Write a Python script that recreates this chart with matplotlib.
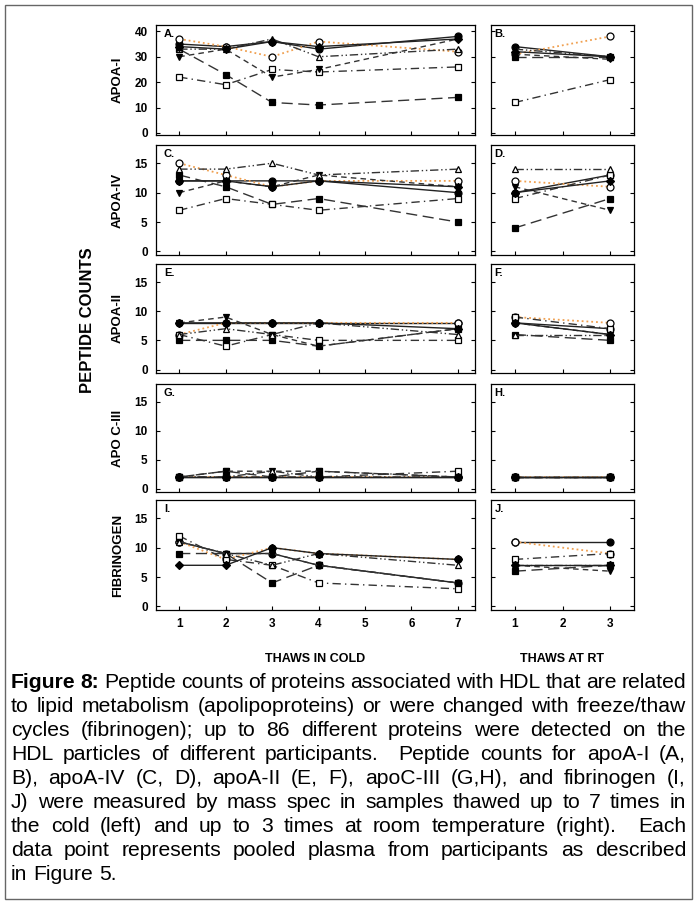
import matplotlib
matplotlib.use('Agg')
import matplotlib.pyplot as plt
from matplotlib.patches import Rectangle

plt.rcParams['font.family'] = ['Liberation Sans', 'DejaVu Sans']

cold_x = [1, 2, 3, 4, 7]
rt_x = [1, 3]

# series order: filled circle, open circle, filled square, open square,
# filled triangle down, open triangle up, filled diamond
apoa1_cold = [[35, 34, 36, 33, 38], [37, 34, 30, 36, 32], [33, 23, 12, 11, 14],
              [22, 19, 25, 24, 26], [30, 33, 22, 25, 37], [33, 33, 37, 30, 33],
              [34, 33, 36, 34, 37]]
apoa1_rt = [[34, 30], [31, 38], [30, 30], [12, 21], [31, 29], [33, 30], [32, 30]]

apoa4_cold = [[12, 12, 12, 12, 10], [15, 13, 11, 12, 12], [13, 11, 8, 9, 5],
              [7, 9, 8, 7, 9], [10, 12, 11, 13, 11], [14, 14, 15, 13, 14],
              [12, 12, 11, 12, 11]]
apoa4_rt = [[10, 13], [12, 11], [4, 9], [9, 13], [11, 7], [14, 14], [10, 12]]

apoa2_cold = [[8, 8, 8, 8, 8], [6, 8, 8, 8, 8], [5, 5, 5, 4, 7],
              [6, 4, 6, 5, 5], [8, 9, 6, 4, 7], [6, 7, 6, 8, 6],
              [8, 8, 8, 8, 7]]
apoa2_rt = [[8, 7], [9, 8], [6, 5], [9, 7], [8, 6], [6, 6], [8, 6]]

apoc3_cold = [[2, 2, 2, 2, 2], [2, 2, 2, 2, 2], [2, 3, 2, 3, 2],
              [2, 2, 2, 2, 3], [2, 3, 3, 3, 2], [2, 2, 3, 2, 2],
              [2, 2, 2, 2, 2]]
apoc3_rt = [[2, 2], [2, 2], [2, 2], [2, 2], [2, 2], [2, 2], [2, 2]]

fib_cold = [[11, 9, 9, 7, 4], [11, 8, 10, 9, 8], [9, 9, 4, 7, 4],
            [12, 8, 7, 4, 3], [11, 9, 9, 7, 4], [11, 9, 7, 9, 7],
            [7, 7, 10, 9, 8]]
fib_rt = [[11, 11], [11, 9], [6, 7], [8, 9], [7, 6], [7, 7], [7, 7]]

row_names = ['APOA-I', 'APOA-IV', 'APOA-II', 'APO C-III', 'FIBRINOGEN']
cold_data = [apoa1_cold, apoa4_cold, apoa2_cold, apoc3_cold, fib_cold]
rt_data = [apoa1_rt, apoa4_rt, apoa2_rt, apoc3_rt, fib_rt]
letters = ['A.', 'B.', 'C.', 'D.', 'E.', 'F.', 'G.', 'H.', 'I.', 'J.']

caption_lines = [
    "Figure 8: Peptide counts of proteins associated with HDL that are related",
    "to lipid metabolism (apolipoproteins) or were changed with freeze/thaw",
    "cycles (fibrinogen); up to 86 different proteins were detected on the",
    "HDL particles of different participants.  Peptide counts for apoA-I (A,",
    "B), apoA-IV (C, D), apoA-II (E, F), apoC-III (G,H), and fibrinogen (I,",
    "J) were measured by mass spec in samples thawed up to 7 times in",
    "the cold (left) and up to 3 times at room temperature (right).  Each",
    "data point represents pooled plasma from participants as described",
    "in Figure 5.",
]

orange = '#f0a050'
styles = [
    dict(marker='o', mfc='black', ls='-', color='#222222', ms=5),
    dict(marker='o', mfc='white', ls=':', color=orange, lw=1.3, ms=5),
    dict(marker='s', mfc='black', ls=(0, (8, 4)), color='#333333', ms=5),
    dict(marker='s', mfc='white', ls=(0, (6, 3, 1, 3)), color='#333333', ms=5),
    dict(marker='v', mfc='black', ls=(0, (4, 3)), color='#333333', ms=5),
    dict(marker='^', mfc='white', ls=(0, (6, 2, 1, 2, 1, 2)), color='#333333', ms=5),
    dict(marker='D', mfc='black', ls='-', color='#222222', ms=3.8),
]

W, H = 697, 902
fig = plt.figure(figsize=(W / 100, H / 100), dpi=100)

def px_axes(x0, y0, x1, y1):
    return fig.add_axes([x0 / W, 1 - y1 / H, (x1 - x0) / W, (y1 - y0) / H])

rows = [(25, 135), (145, 255), (264, 373), (384, 492), (500, 610)]

for i, (top, bot) in enumerate(rows):
    axl = px_axes(156, top, 475, bot)
    axr = px_axes(491, top, 634, bot)
    for ax, xs, data, letter in [(axl, cold_x, cold_data[i], letters[2 * i]),
                                 (axr, rt_x, rt_data[i], letters[2 * i + 1])]:
        for vals, st in zip(data, styles):
            ax.plot(xs, vals, marker=st['marker'], mfc=st['mfc'], mec='black',
                    mew=0.9, ms=st['ms'], ls=st['ls'], color=st['color'],
                    lw=st.get('lw', 1.0), clip_on=False)
        if i == 0:
            ax.set_ylim(-0.8, 42.5)
            ax.set_yticks([0, 10, 20, 30, 40])
        else:
            ax.set_ylim(-0.6, 18.1)
            ax.set_yticks([0, 5, 10, 15])
        ax.tick_params(direction='in', length=3, width=0.8, left=True,
                       right=True, top=False, labelsize=8.5, pad=6)
        for sp in ax.spines.values():
            sp.set_linewidth(0.9)
        ax.text(0.025, 0.96, letter, transform=ax.transAxes, fontsize=8,
                fontweight='bold', va='top', ha='left')
        for lab in ax.get_yticklabels() + ax.get_xticklabels():
            lab.set_fontweight('bold')
    axl.set_xlim(0.5, 7.37)
    axl.set_xticks(cold_x[:4] + [5, 6, 7])
    axr.set_xlim(0.5, 3.5)
    axr.set_xticks([1, 2, 3])
    axr.set_yticklabels([])
    if i < 4:
        axl.set_xticklabels([])
        axr.set_xticklabels([])
    else:
        for ax in (axl, axr):
            for lab in ax.get_xticklabels():
                lab.set_fontweight('bold')
    fig.text(118 / W, 1 - (top + bot) / 2 / H, row_names[i], rotation=90,
             ha='center', va='center', fontsize=9.5, fontweight='bold')

fig.text(88 / W, 1 - 320 / H, 'PEPTIDE COUNTS', rotation=90, ha='center',
         va='center', fontsize=12, fontweight='bold')
fig.text(315 / W, 1 - 659 / H, 'THAWS IN COLD', ha='center', va='center',
         fontsize=9, fontweight='bold')
fig.text(562 / W, 1 - 659 / H, 'THAWS AT RT', ha='center', va='center',
         fontsize=9, fontweight='bold')

# caption, justified by hand (a double space counts as an extra gap)
renderer = fig.canvas.get_renderer()
cap_size = 15.2
x_left, x_right = 11, 686
for n, line in enumerate(caption_lines):
    y = 1 - (683 + 24 * n) / H
    words = line.split(' ')
    objs = []
    for k, w in enumerate(words):
        bold = (n == 0 and k < 2)
        t = fig.text(0, y, w, fontsize=cap_size,
                     fontweight='bold' if bold else 'normal', va='center')
        objs.append(t)
    widths = [t.get_window_extent(renderer).width if t.get_text() else 0
              for t in objs]
    space = 0.278 * cap_size * 100 / 72
    if n == len(caption_lines) - 1:
        gap = space
    else:
        gap = (x_right - x_left - sum(widths)) / (len(words) - 1)
    x = x_left
    for t, w in zip(objs, widths):
        t.set_x(x / W)
        x += w + gap

fig.patches.append(Rectangle((5 / W, 3 / H), 687 / W, 894 / H, fill=False,
                             edgecolor='#666666', lw=1,
                             transform=fig.transFigure, figure=fig))

fig.savefig('out.png', dpi=100)
